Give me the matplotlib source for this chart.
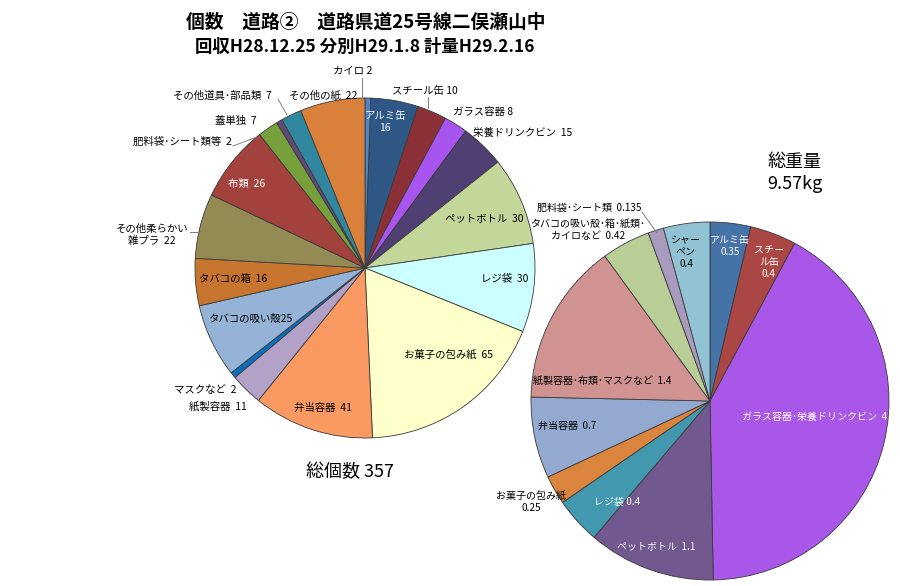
import matplotlib
matplotlib.use('Agg')
import matplotlib.pyplot as plt

plt.rcParams['font.family'] = ['Noto Sans CJK JP', 'DejaVu Sans']

# left pie: counts, clockwise from 12 o'clock
count_names = ['カイロ', 'アルミ缶', 'スチール缶', 'ガラス容器', '栄養ドリンクビン', 'ペットボトル',
               'レジ袋', 'お菓子の包み紙', '弁当容器', '紙製容器', 'マスクなど', 'タバコの吸い殻',
               'タバコの箱', 'その他柔らかい\n雑プラ', '布類', '蓋単独', '肥料袋･シート類等',
               'その他道具･部品類', 'その他の紙']
counts = [2, 16, 10, 8, 15, 30, 30, 65, 41, 11, 2, 25, 16, 22, 26, 7, 2, 7, 22]

# right pie: weights (kg), clockwise from 12 o'clock
weight_names = ['アルミ缶', 'スチー\nル缶', 'ガラス容器･栄養ドリンクビン', 'ペットボトル', 'レジ袋',
                'お菓子の包み紙', '弁当容器', '紙製容器･布類･マスクなど',
                'タバコの吸い殻･箱･紙類･\nカイロなど', '肥料袋･シート類', 'シャー\nペン']
weights = [0.35, 0.4, 4, 1.1, 0.4, 0.25, 0.7, 1.4, 0.42, 0.135, 0.4]

title1 = '個数　道路②　道路県道25号線二俣瀬山中'
title2 = '回収H28.12.25 分別H29.1.8 計量H29.2.16'
total_count_text = '総個数 357'
total_weight_text = '総重量\n9.57kg'

# ---- styles / layout (pixel coords, y from top) ----
H = 586
count_colors = ['#4a86c8', '#2f5786', '#8b3036', '#a855f0', '#4f3f72', '#c4d79b',
                '#ccffff', '#ffffcc', '#fa9a62', '#b2a2c7', '#0a6fc0', '#95b3d7',
                '#c8762f', '#948a54', '#a3413d', '#77a03c', '#604a7b', '#3187a0',
                '#d9803a']
weight_colors = ['#4572a7', '#aa4643', '#a857e8', '#71588f', '#4198af', '#db843d',
                 '#93a9cf', '#d19392', '#b9cd96', '#a99bbd', '#92c3d4']

count_seps = [' ', '\n', ' ', ' ', '  ', '  ', '  ', '  ', '  ', '  ', '  ', '', '  ',
              '  ', '  ', '  ', '  ', '  ', '  ']
count_pos = [(353, 71), (385, 122), (425, 91), (483, 112), (523, 133), (484, 219),
             (505, 278), (449, 355), (323, 408), (218, 407), (205, 390), (250, 318),
             (233, 279), (152, 235), (247, 184), (236, 121), (182, 142), (222, 96),
             (323, 96)]
count_white = {1, 14}
count_leaders = [[(362, 78), (362, 98)], [(428, 97), (428, 108)],
                 [(233, 146), (257, 137)], [(278, 99), (287, 115)],
                 [(190, 232), (198, 232)]]

weight_seps = ['\n', '\n', '  ', '  ', ' ', '\n', '  ', '  ', '  ', '  ', '\n']
weight_pos = [(730, 246), (769, 262), (815, 417), (656, 546), (617, 502), (531, 502),
              (567, 426), (602, 381), (588, 230), (589, 208), (686, 252)]
weight_white = {0, 1, 2, 3, 4}
weight_leaders = [[(642, 212), (657, 233)]]

fig = plt.figure(figsize=(9, 5.86), dpi=100)
ax = fig.add_axes([0, 0, 1, 1])

wp = dict(edgecolor='#3a3a3a', linewidth=0.6)
ax.pie(counts, colors=count_colors, startangle=90, counterclock=False,
       center=(365, H - 268), radius=170, wedgeprops=wp)
ax.pie(weights, colors=weight_colors, startangle=90, counterclock=False,
       center=(710, H - 401), radius=179, wedgeprops=wp)

ax.set_xlim(0, 900)
ax.set_ylim(0, H)
ax.set_aspect('equal')
ax.axis('off')

for i, (n, v) in enumerate(zip(count_names, counts)):
    x, y = count_pos[i]
    ax.text(x, H - y, f'{n}{count_seps[i]}{v:g}', ha='center', va='center', fontsize=7.5,
            color='white' if i in count_white else 'black', linespacing=1.3)
for i, (n, v) in enumerate(zip(weight_names, weights)):
    x, y = weight_pos[i]
    ax.text(x, H - y, f'{n}{weight_seps[i]}{v:g}', ha='center', va='center', fontsize=7.2,
            color='white' if i in weight_white else 'black', linespacing=1.3)

for seg in count_leaders + weight_leaders:
    ax.plot([p[0] for p in seg], [H - p[1] for p in seg], color='#7f7f7f', lw=0.7)

ax.text(366, H - 22, title1, ha='center', va='center', fontsize=13.5, fontweight='bold')
ax.text(365, H - 47, title2, ha='center', va='center', fontsize=12.5, fontweight='bold')
ax.text(350, H - 472, total_count_text, ha='center', va='center', fontsize=13)
ax.text(795, H - 173, total_weight_text, ha='center', va='center', fontsize=13,
        linespacing=1.3)

fig.savefig('out.png', dpi=100)
